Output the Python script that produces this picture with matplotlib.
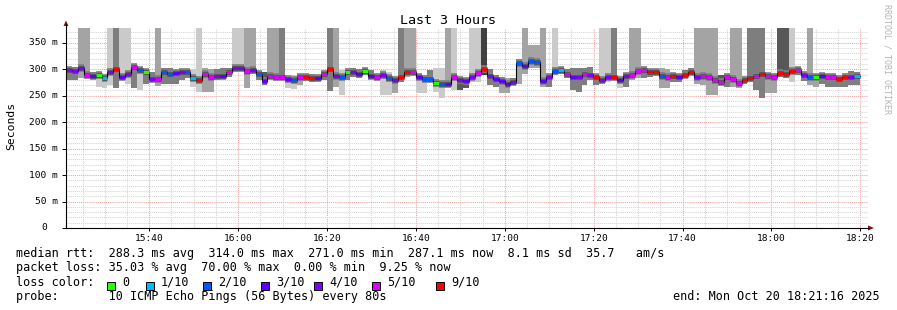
import matplotlib
matplotlib.use('agg')
import matplotlib.pyplot as plt
import numpy as np
from matplotlib.patches import Polygon, Rectangle
from matplotlib.lines import Line2D

W, H = 897, 310
STEP_MIN = 80 / 60.0          # one probe every 80 s
SPAN_MIN = 802 / 4.4444       # width of the canvas in minutes

# median rtt per probe round (ms)
median_ms = [298, 297, 302, 290, 287, 289, 283, 295, 300, 286,
             292, 304, 299, 294, 282, 282, 294, 292, 293, 295,
             294, 284, 280, 292, 286, 287, 288, 294, 302, 303,
             297, 298, 292, 278, 288, 286, 286, 282, 280, 286,
             286, 283, 283, 292, 300, 287, 285, 295, 294, 292,
             297, 287, 286, 290, 283, 279, 286, 295, 295, 285,
             282, 282, 275, 272, 273, 285, 279, 278, 286, 293,
             300, 288, 282, 277, 273, 276, 311, 307, 316, 313,
             277, 286, 297, 299, 292, 286, 285, 292, 289, 285,
             279, 286, 286, 279, 287, 290, 297, 299, 294, 294,
             288, 286, 287, 285, 290, 294, 286, 288, 285, 279,
             276, 285, 282, 274, 279, 283, 288, 291, 287, 286,
             293, 292, 296, 299, 290, 285, 285, 287, 286, 285,
             282, 285, 286, 287]
# loss bucket per round: 0,1,2,3,4,5 -> n/10, 6 -> 9/10
loss_idx = [4, 4, 4, 5, 3, 0, 1, 4, 6, 3,
            4, 5, 2, 0, 4, 5, 2, 2, 3, 4,
            2, 1, 6, 5, 5, 4, 3, 5, 4, 4,
            5, 4, 2, 3, 5, 5, 5, 3, 2, 5,
            6, 6, 3, 5, 6, 4, 2, 0, 4, 3,
            0, 3, 5, 4, 2, 4, 6, 6, 5, 3,
            2, 2, 0, 2, 3, 5, 4, 3, 4, 5,
            6, 4, 3, 3, 3, 4, 2, 3, 2, 2,
            3, 4, 2, 1, 5, 3, 4, 5, 4, 6,
            4, 4, 6, 3, 4, 5, 5, 5, 6, 6,
            2, 5, 6, 3, 6, 6, 4, 5, 5, 5,
            5, 5, 5, 5, 6, 6, 5, 6, 5, 5,
            6, 6, 6, 5, 4, 2, 0, 3, 5, 5,
            6, 6, 4, 1]
# smoke extent per round (ms); 400 = runs off the top of the graph
smoke_lo = [280, 280, 283, 283, 283, 267, 264, 270, 264, 283,
            273, 265, 261, 273, 277, 269, 273, 272, 272, 280,
            283, 267, 258, 258, 258, 280, 283, 286, 295, 296,
            265, 292, 280, 270, 284, 283, 281, 264, 262, 270,
            278, 276, 277, 280, 259, 267, 251, 280, 286, 283,
            289, 282, 280, 251, 251, 255, 276, 286, 289, 255,
            255, 276, 258, 245, 267, 261, 261, 264, 276, 276,
            289, 270, 267, 255, 255, 272, 273, 292, 302, 302,
            267, 267, 289, 292, 283, 261, 258, 270, 280, 270,
            272, 276, 280, 264, 267, 280, 283, 283, 286, 289,
            265, 265, 276, 276, 286, 289, 272, 270, 251, 251,
            270, 267, 267, 265, 272, 276, 261, 245, 255, 255,
            286, 283, 276, 289, 277, 270, 266, 272, 267, 267,
            266, 266, 270, 270]
smoke_hi = [304, 304, 400, 400, 295, 295, 292, 400, 400, 400,
            400, 308, 305, 298, 295, 400, 303, 302, 298, 298,
            300, 300, 400, 302, 300, 300, 302, 302, 400, 400,
            400, 400, 295, 295, 400, 400, 400, 286, 289, 292,
            292, 291, 289, 295, 400, 400, 298, 300, 302, 301,
            302, 298, 292, 298, 295, 286, 400, 400, 400, 289,
            289, 298, 302, 302, 400, 400, 286, 283, 400, 400,
            400, 300, 290, 286, 283, 283, 320, 400, 346, 346,
            400, 292, 400, 302, 300, 303, 302, 302, 305, 292,
            400, 400, 400, 283, 292, 400, 400, 302, 298, 298,
            302, 300, 292, 289, 298, 302, 400, 400, 400, 400,
            289, 290, 400, 400, 286, 400, 400, 400, 289, 289,
            400, 400, 400, 302, 295, 400, 286, 290, 292, 292,
            285, 289, 297, 295]
# grey level of the outer smoke (0 lightest .. 4 darkest)
smoke_shade = [2, 2, 1, 1, 2, 0, 0, 0, 2, 0,
               0, 2, 0, 2, 2, 1, 2, 2, 2, 2,
               2, 0, 0, 1, 1, 2, 2, 2, 0, 0,
               1, 1, 2, 3, 1, 1, 2, 0, 0, 1,
               2, 2, 2, 2, 2, 1, 0, 2, 2, 2,
               2, 2, 2, 0, 0, 1, 2, 1, 1, 0,
               0, 2, 0, 0, 1, 0, 3, 3, 0, 0,
               4, 2, 2, 1, 1, 3, 1, 1, 1, 1,
               1, 2, 0, 2, 2, 2, 2, 2, 2, 2,
               0, 0, 2, 0, 2, 1, 1, 2, 2, 2,
               1, 1, 2, 2, 2, 2, 1, 1, 1, 1,
               3, 2, 1, 1, 2, 2, 2, 2, 1, 1,
               3, 3, 0, 2, 2, 1, 1, 2, 2, 2,
               2, 2, 2, 2]

loss_colors = ['#26ff00', '#00b8ff', '#0059ff', '#5e00ff', '#7e00ff', '#dd00ff', '#ff0000']
loss_labels = ['0', '1/10', '2/10', '3/10', '4/10', '5/10', '9/10']
shades = ['#cacaca', '#a4a4a4', '#7e7e7e', '#585858', '#404040']

time_labels = ['15:40', '16:00', '16:20', '16:40', '17:00', '17:20', '17:40', '18:00', '18:20']
first_label_min = 18 + 44 / 60.0   # 15:40:00 relative to 15:21:16
y_values = [0, 50, 100, 150, 200, 250, 300, 350]
y_labels = ['0', '50 m', '100 m', '150 m', '200 m', '250 m', '300 m', '350 m']

legend_lines = [
    'median rtt:  288.3 ms avg  314.0 ms max  271.0 ms min  287.1 ms now  8.1 ms sd  35.7   am/s',
    'packet loss: 35.03 % avg  70.00 % max  0.00 % min  9.25 % now',
    'loss color:',
    'probe:       10 ICMP Echo Pings (56 Bytes) every 80s',
]
end_text = 'end: Mon Oct 20 18:21:16 2025'

MONO = 'DejaVu Sans Mono'


def fx(x):
    return x / W


def fy(y):
    return 1 - y / H


fig = plt.figure(figsize=(W / 100, H / 100), dpi=100)
fig.patch.set_facecolor('white')
ax = fig.add_axes([fx(66), fy(228), 802 / W, 200 / H])
ax.set_xlim(0, SPAN_MIN)
ax.set_ylim(0, 200 / 0.529)

n = len(median_ms)
x0 = np.arange(n) * STEP_MIN
x1 = x0 + STEP_MIN
med = np.array(median_ms, dtype=float)
lo = np.array(smoke_lo, dtype=float)
hi = np.array(smoke_hi, dtype=float)

# smoke
ax.bar(x0, hi - lo, bottom=lo, width=STEP_MIN, align='edge',
       color=[shades[s] for s in smoke_shade], linewidth=0,
       antialiased=False, zorder=2)
# darker core of the smoke around the median
ax.hlines(med, x0, x1, colors='#7e7e7e', lw=5.5, zorder=3, capstyle='butt')
ax.hlines(med, x0, x1, colors='#585858', lw=3.6, zorder=3, capstyle='butt')

# median line, coloured by loss
xs = np.append(x0, x1[-1])
ax.step(xs, np.append(med, med[-1]), where='post', color='black', lw=0.8, zorder=4)
ax.hlines(med, x0, x1, colors=[loss_colors[i] for i in loss_idx], lw=2.2,
          zorder=5, capstyle='butt')

# grid
major_x = first_label_min + 20 * np.arange(len(time_labels))
minor_x = np.arange(first_label_min - 15, SPAN_MIN, 5)
ax.set_xticks(major_x)
ax.set_xticks(minor_x, minor=True)
ax.set_xticklabels(time_labels, fontfamily=MONO, fontsize=6.8)
ax.set_yticks(y_values)
ax.set_yticks(np.arange(0, 380, 10), minor=True)
ax.set_yticklabels([])
ax.grid(which='minor', color='#d4d4d4', linestyle=(0, (1, 1)), lw=0.75)
ax.grid(which='major', color='#f2a2a2', linestyle=(0, (1, 1)), lw=0.75)
ax.set_axisbelow(True)
ax.tick_params(axis='x', which='major', length=2, width=0.7, pad=2.5, colors='black')
ax.tick_params(axis='x', which='minor', length=0)
ax.tick_params(axis='y', which='major', length=3, width=0.7, colors='black')
ax.tick_params(axis='y', which='minor', length=0)
for s in ax.spines.values():
    s.set_visible(False)

for v, lab in zip(y_values, y_labels):
    ypx = 228 - v * 0.529
    xr = 58 if lab != '0' else 47
    fig.text(fx(xr), fy(ypx), lab, ha='right', va='center',
             fontfamily=MONO, fontsize=6.8)

# axes with arrows
fig.add_artist(Line2D([fx(66), fx(66)], [fy(228), fy(24)], color='black', lw=0.8))
fig.add_artist(Line2D([fx(66), fx(869)], [fy(228), fy(228)], color='black', lw=0.8))
fig.add_artist(Polygon([(fx(63.5), fy(26)), (fx(68.5), fy(26)), (fx(66), fy(20.5))],
                       closed=True, color='#8b1010', lw=0))
fig.add_artist(Polygon([(fx(868), fy(225.5)), (fx(868), fy(230.5)), (fx(874), fy(228))],
                       closed=True, color='#8b1010', lw=0))

# texts
fig.text(fx(448), fy(24), 'Last 3 Hours', ha='center', va='baseline',
         fontfamily=MONO, fontsize=9.6)
fig.text(fx(11), fy(126), 'Seconds', ha='center', va='center', rotation=90,
         fontfamily=MONO, fontsize=8.2)
fig.text(fx(887), fy(59), 'RRDTOOL / TOBI OETIKER', ha='center', va='center',
         rotation=270, fontfamily=MONO, fontsize=6, color='#b4b4b4')

baselines = [257.5, 271.5, 285.5, 300]
for line, yb in zip(legend_lines, baselines):
    fig.text(fx(16), fy(yb), line, ha='left', va='baseline',
             fontfamily=MONO, fontsize=8.5)
fig.text(fx(880), fy(300), end_text, ha='right', va='baseline',
         fontfamily=MONO, fontsize=8.5)

square_x = [107, 146, 203, 261, 314, 372, 436]
for sx, col, lab in zip(square_x, loss_colors, loss_labels):
    fig.add_artist(Rectangle((fx(sx), fy(290)), 8 / W, 8 / H,
                             facecolor=col, edgecolor='black', lw=0.7))
    fig.text(fx(sx + 15), fy(285.5), lab, ha='left', va='baseline',
             fontfamily=MONO, fontsize=8.5)

fig.savefig('out.png', dpi=100, facecolor='white')
plt.close(fig)
